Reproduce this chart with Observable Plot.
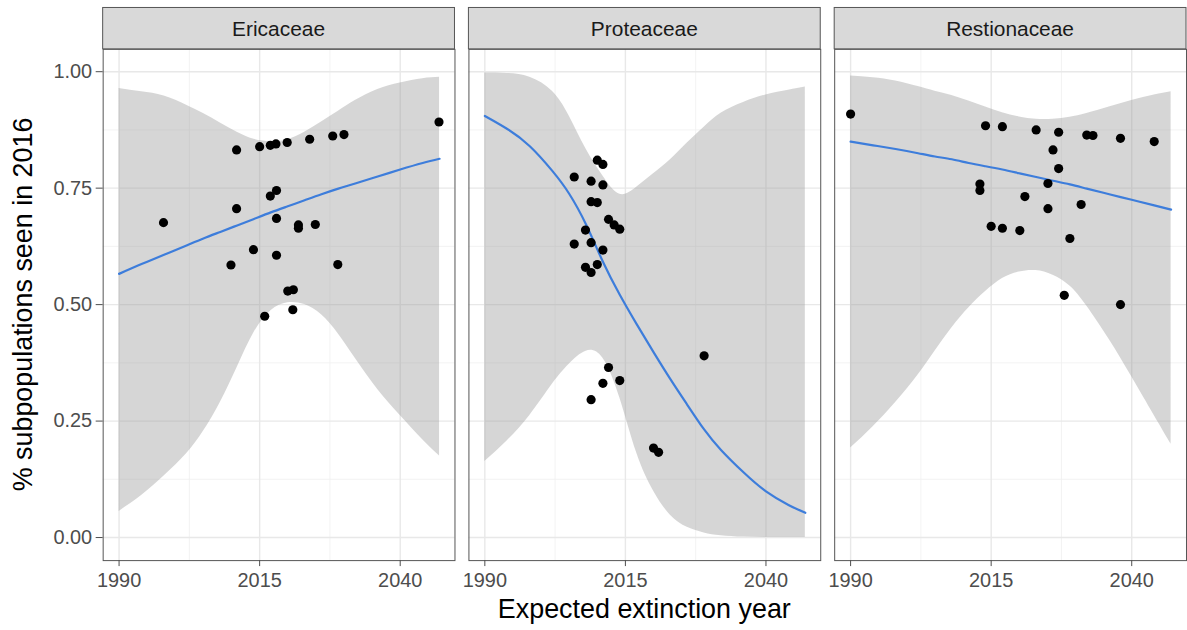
<!DOCTYPE html>
<html>
<head>
<meta charset="utf-8">
<script src="https://cdn.jsdelivr.net/npm/d3@7"></script>
<script src="https://cdn.jsdelivr.net/npm/@observablehq/plot@0.6"></script>
<style>
  html, body { margin: 0; padding: 0; background: white; }
  #wrap { width: 1187px; height: 630px; overflow: hidden; }
</style>
</head>
<body>
<div id="wrap"></div>
<script>
// ---- data ----
const families = ["Ericaceae", "Proteaceae", "Restionaceae"];

const ericYear = [1997.9, 2010.9, 2010.9, 2009.9, 2013.9, 2015.0, 2016.9, 2017.9, 2019.9, 2023.9, 2028.0, 2030.0, 2046.9, 2018.0, 2016.9, 2018.0, 2021.9, 2021.9, 2024.9, 2018.0, 2028.9, 2020.0, 2021.0, 2020.9, 2015.9];
const ericPct  = [0.676, 0.832, 0.706, 0.585, 0.618, 0.839, 0.842, 0.845, 0.848, 0.855, 0.862, 0.865, 0.892, 0.745, 0.733, 0.685, 0.671, 0.664, 0.672, 0.606, 0.586, 0.529, 0.532, 0.489, 0.475];

const proteYear = [2010.0, 2011.0, 2005.9, 2008.9, 2011.0, 2008.9, 2010.0, 2012.0, 2013.0, 2014.0, 2007.9, 2005.9, 2008.9, 2011.0, 2010.0, 2007.9, 2008.9, 2012.0, 2014.0, 2011.0, 2008.9, 2029.0, 2020.0, 2020.9];
const protePct  = [0.810, 0.801, 0.774, 0.765, 0.757, 0.721, 0.719, 0.683, 0.671, 0.662, 0.660, 0.630, 0.633, 0.617, 0.586, 0.580, 0.569, 0.365, 0.337, 0.331, 0.296, 0.390, 0.192, 0.183];

const restioYear = [1990.0, 2014.0, 2017.0, 2023.0, 2027.0, 2032.0, 2033.1, 2038.0, 2044.0, 2026.0, 2027.0, 2025.1, 2013.0, 2013.0, 2021.0, 2031.0, 2025.1, 2015.0, 2017.0, 2020.1, 2029.0, 2028.0, 2038.0];
const restioPct  = [0.909, 0.884, 0.882, 0.875, 0.870, 0.864, 0.863, 0.857, 0.850, 0.832, 0.792, 0.760, 0.759, 0.745, 0.732, 0.715, 0.706, 0.668, 0.664, 0.659, 0.642, 0.520, 0.500];

// fitted curve and confidence band, read at these years
const fitYear = [1990, 1994, 1998, 2002, 2005, 2008, 2011, 2014, 2017, 2020, 2023, 2026, 2029, 2032, 2036, 2040, 2044, 2047];

const ericFit = [0.566, 0.587, 0.607, 0.627, 0.642, 0.656, 0.670, 0.684, 0.698, 0.711, 0.724, 0.737, 0.749, 0.760, 0.775, 0.790, 0.804, 0.813];
const ericLo  = [0.056, 0.090, 0.132, 0.180, 0.228, 0.290, 0.365, 0.440, 0.487, 0.504, 0.500, 0.478, 0.437, 0.385, 0.318, 0.262, 0.210, 0.175];
const ericHi  = [0.964, 0.957, 0.948, 0.928, 0.910, 0.890, 0.870, 0.855, 0.850, 0.854, 0.870, 0.892, 0.915, 0.938, 0.962, 0.976, 0.985, 0.988];

const proteFit = [0.905, 0.877, 0.840, 0.787, 0.738, 0.672, 0.592, 0.521, 0.458, 0.398, 0.340, 0.285, 0.232, 0.188, 0.140, 0.099, 0.070, 0.053];
const proteLo  = [0.163, 0.208, 0.262, 0.329, 0.372, 0.400, 0.385, 0.300, 0.182, 0.100, 0.048, 0.022, 0.010, 0.004, 0.001, 0.000, 0.000, 0.000];
const proteHi  = [0.997, 0.996, 0.988, 0.958, 0.905, 0.834, 0.776, 0.737, 0.752, 0.781, 0.811, 0.847, 0.881, 0.911, 0.934, 0.950, 0.960, 0.967];

const restioFit = [0.850, 0.842, 0.834, 0.825, 0.818, 0.812, 0.804, 0.797, 0.790, 0.782, 0.774, 0.766, 0.758, 0.749, 0.737, 0.725, 0.713, 0.704];
const restioLo  = [0.192, 0.238, 0.290, 0.349, 0.400, 0.450, 0.493, 0.528, 0.556, 0.570, 0.573, 0.563, 0.540, 0.497, 0.425, 0.345, 0.262, 0.200];
const restioHi  = [0.991, 0.987, 0.980, 0.968, 0.958, 0.949, 0.937, 0.924, 0.912, 0.903, 0.898, 0.898, 0.902, 0.910, 0.924, 0.938, 0.950, 0.957];

const xTicks = [1990, 2015, 2040];
const xMinor = [2002.5, 2027.5];
const yTicks = [0, 0.25, 0.5, 0.75, 1];
const yMinor = [0.125, 0.375, 0.625, 0.875];

const xTitle = "Expected extinction year";
const yTitle = "% subpopulations seen in 2016";

// ---- tables built from the arrays ----
const pointSets = [[ericYear, ericPct], [proteYear, protePct], [restioYear, restioPct]];
const fitSets = [[ericFit, ericLo, ericHi], [proteFit, proteLo, proteHi], [restioFit, restioLo, restioHi]];

const points = families.flatMap((f, k) =>
  pointSets[k][0].map((yr, i) => ({family: f, year: yr, pct: pointSets[k][1][i]})));
const fits = families.flatMap((f, k) =>
  fitYear.map((yr, i) => ({family: f, year: yr, fit: fitSets[k][0][i], lo: fitSets[k][1][i], hi: fitSets[k][2][i]})));

const FONT = "'Liberation Sans', Arial, Helvetica, sans-serif";

const chart = Plot.plot({
  width: 1191,
  height: 630,
  marginLeft: 102,
  marginRight: 0,
  marginTop: 49,
  marginBottom: 68,
  style: {fontFamily: FONT, background: "white", overflow: "visible"},
  fx: {domain: families, axis: null, label: null, paddingInner: 0.0386, paddingOuter: 0},
  x: {domain: [1987.17, 2049.74], label: null},
  y: {domain: [-0.0495, 1.048], label: null},
  marks: [
    Plot.ruleX(xMinor, {stroke: "#f0f0f0", strokeWidth: 0.8}),
    Plot.ruleY(yMinor, {stroke: "#f0f0f0", strokeWidth: 0.8}),
    Plot.ruleX(xTicks, {stroke: "#e8e8e8", strokeWidth: 1.4}),
    Plot.ruleY(yTicks, {stroke: "#e8e8e8", strokeWidth: 1.4}),
    Plot.areaY(fits, {fx: "family", x: "year", y1: "lo", y2: "hi", fill: "#999999", fillOpacity: 0.4, curve: "natural"}),
    Plot.line(fits, {fx: "family", x: "year", y: "fit", stroke: "#3d7ddb", strokeWidth: 2.2, curve: "natural"}),
    Plot.dot(points, {fx: "family", x: "year", y: "pct", r: 4.6, fill: "black", stroke: null}),
    Plot.frame({stroke: "#555555", strokeWidth: 1}),
    Plot.axisX({ticks: xTicks, tickFormat: "d", tickSize: 6, tickPadding: 6, fontSize: 20, color: "#4d4d4d", label: null}),
    Plot.axisY({ticks: yTicks, tickFormat: d3.format(".2f"), tickSize: 7, tickPadding: 4, fontSize: 20, color: "#4d4d4d", label: null})
  ]
});

document.getElementById("wrap").appendChild(chart);

// ---- facet strips and axis titles, placed with the plot's own fx scale ----
const fx = chart.scale("fx");
const bw = fx.bandwidth;
const svg = d3.select(chart);
const strips = svg.append("g");
families.forEach(f => {
  const x0 = fx.apply(f);
  strips.append("rect")
    .attr("x", x0).attr("y", 7.5).attr("width", bw).attr("height", 41.5)
    .attr("fill", "#d9d9d9").attr("stroke", "#555555").attr("stroke-width", 1);
  strips.append("text")
    .attr("x", x0 + bw / 2).attr("y", 28.5)
    .attr("text-anchor", "middle").attr("dominant-baseline", "central")
    .attr("font-family", FONT).attr("font-size", 21).attr("fill", "#1a1a1a")
    .text(f);
});
const left = fx.apply(families[0]);
const right = fx.apply(families[families.length - 1]) + bw;
svg.append("text")
  .attr("x", (left + right) / 2).attr("y", 620)
  .attr("text-anchor", "middle")
  .attr("font-family", FONT).attr("font-size", 27).attr("fill", "black")
  .text(xTitle);
svg.append("text")
  .attr("transform", `translate(23,${(49 + 562) / 2}) rotate(-90)`)
  .attr("text-anchor", "middle").attr("dominant-baseline", "central")
  .attr("font-family", FONT).attr("font-size", 27).attr("fill", "black")
  .text(yTitle);
</script>
</body>
</html>
